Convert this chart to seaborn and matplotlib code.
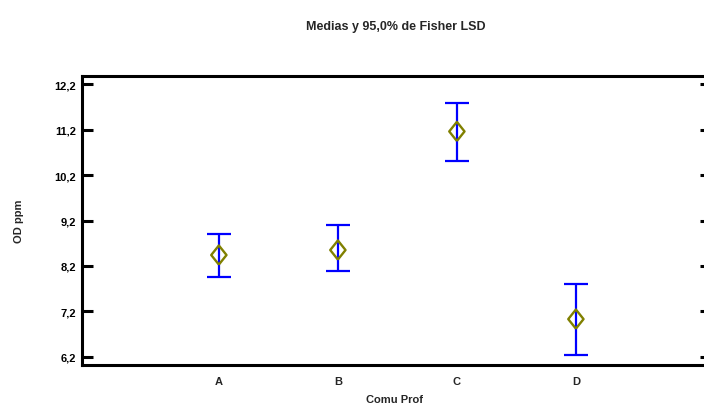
import matplotlib
matplotlib.use("Agg")
import matplotlib.pyplot as plt
import seaborn as sns
import pandas as pd

categories = ["A", "B", "C", "D"]
means = [8.44, 8.55, 11.16, 7.03]
lower = [7.96, 8.08, 10.52, 6.24]
upper = [8.90, 9.09, 11.78, 7.80]
yticks = [6.2, 7.2, 8.2, 9.2, 10.2, 11.2, 12.2]
ytick_labels = ["6,2", "7,2", "8,2", "9,2", "10,2", "11,2", "12,2"]

sns.set_theme(style="white")
plt.rcParams['font.family'] = ['Liberation Sans Narrow', 'Liberation Sans', 'DejaVu Sans']
plt.rcParams['font.weight'] = 'bold'

df = pd.DataFrame({"cat": categories, "mean": means, "lo": lower, "hi": upper})

fig = plt.figure(figsize=(7.04, 4.06), dpi=100)
ax = fig.add_axes([82/704, 40/406, (708-82)/704, (366-77)/406])

err_lo = df["mean"] - df["lo"]
err_hi = df["hi"] - df["mean"]
ax.errorbar(df["cat"], df["mean"], yerr=[err_lo, err_hi], fmt="none",
            ecolor="#0000ff", elinewidth=1.6, capsize=8.5, capthick=1.6, zorder=2)
diamond = [(0, -1.0), (0.8, 0), (0, 1.0), (-0.8, 0), (0, -1.0)]
sns.scatterplot(data=df, x="cat", y="mean", ax=ax, marker=diamond, s=190,
                facecolor="none", edgecolor="#808000", linewidth=1.7, zorder=3)

ax.set_xlim(-1.15, 4.11)
ax.set_ylim(6.02, 12.38)
ax.set_yticks(yticks)
ax.set_yticklabels(ytick_labels, fontsize=8, fontweight="bold")
ax.set_xticks(range(len(categories)))
ax.set_xticklabels(categories, fontsize=8, fontweight="bold")

for s in ax.spines.values():
    s.set_linewidth(2.2)
    s.set_color("black")

ax.tick_params(axis="y", which="both", direction="in", length=8, width=2.2,
               left=True, right=True, pad=4, colors="black")
for tk in ax.yaxis.get_major_ticks():
    tk.tick2line.set_markersize(6)
ax.tick_params(axis="x", length=0, pad=8)

ax.set_xlabel("Comu Prof", fontsize=8, fontweight="bold", labelpad=6)
ax.set_ylabel("OD ppm", fontsize=8, fontweight="bold", labelpad=22)
fig.suptitle("Medias y 95,0% de Fisher LSD", fontsize=9, fontweight="bold",
             x=396/704, y=1-27/406, va="center")

fig.savefig("out.png", dpi=100)
